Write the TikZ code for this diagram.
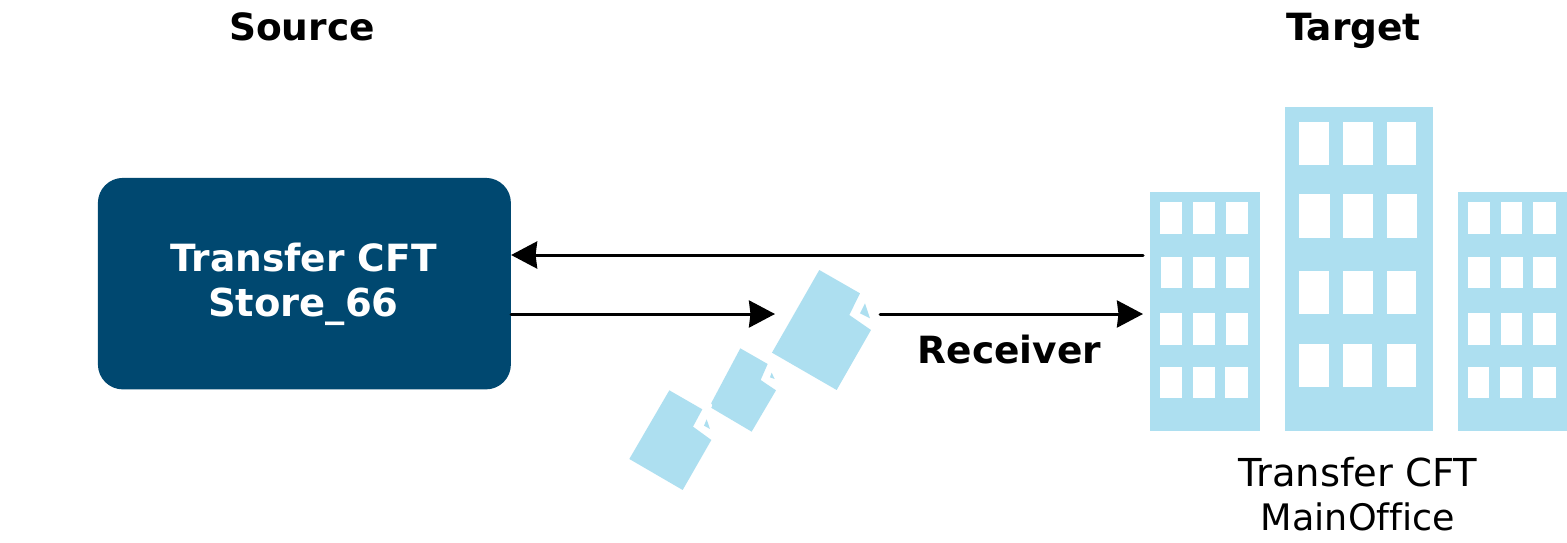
\documentclass[tikz,border=0pt]{standalone}
\usepackage{fontspec}
\setmainfont[Ligatures=NoCommon]{DejaVu Sans}
\usetikzlibrary{arrows.meta}
\definecolor{deepblue}{HTML}{004870}
\definecolor{paleblue}{HTML}{ADDFF0}
\tikzset{
  x=1pt,y=-1pt,
  flow/.style={line width=3pt,line cap=round,-{Stealth[length=26pt,width=27pt,inset=1.5pt]}},
  boxnode/.style={fill=deepblue,draw=none,rounded corners=25pt,inner sep=0pt,minimum width=413pt,minimum height=211.5pt},
  boldlabel/.style={font=\fontsize{37.5}{45}\selectfont\bfseries,align=center,inner sep=0pt},
  plainlabel/.style={font=\fontsize{38.5}{44}\selectfont,align=center,inner sep=0pt},
  tower/.style={fill=paleblue,draw=none,inner sep=0pt},
  zoomA/.style={shift={(610,250)},x=0.3333pt,y=-0.3333pt},
  zoomB/.style={shift={(1130,95)},x=0.3333pt,y=-0.3333pt},
  docshape/.style={fill=paleblue,draw=none},
  foldgap/.style={draw=white,line width=5pt,line cap=round},
}
\begin{document}
\begin{tikzpicture}
\useasboundingbox (0,0) rectangle (1567,542);
\fill[white] (0,0) rectangle (1567,542);

% source box
\node[boxnode,anchor=north west] (source) at (97.7,177.7) {};
\node[boldlabel,text=white,anchor=base] (sourcetext) at (303.5,316.7) {Transfer CFT\\{\fontsize{38.5}{45}\selectfont Store\_66}};

% headings
\node[boldlabel,anchor=base] (sourcehead) at (302,40) {Source};
\node[boldlabel,anchor=base] (targethead) at (1353.5,40) {Target};
\node[boldlabel,anchor=base] (receiver) at (1009.5,363) {Receiver};

% buildings
\node[tower,anchor=north west,minimum width=110pt,minimum height=239.4pt] (towerL) at (1149.3,191.7) {};
\node[tower,anchor=north west,minimum width=148.4pt,minimum height=324.4pt] (towerM) at (1284.3,106.7) {};
\node[tower,anchor=north west,minimum width=109.4pt,minimum height=239.4pt] (towerR) at (1457.3,191.7) {};
\begin{scope}[zoomB]
\foreach \xa/\xb/\ya/\yb in {
 91/157/322/418,190/256/322/418,289/353/322/418,
 94/157/485/580,190/256/485/580,289/356/485/580,
 91/157/653/751,190/256/653/751,289/353/653/751,
 91/157/815/910,190/256/815/910,286/353/815/910,
 508/596/80/211,640/730/80/211,772/859/80/211,
 508/599/298/430,640/730/298/430,772/862/298/430,
 508/596/527/658,640/730/527/658,772/859/527/658,
 508/596/746/877,640/727/746/877,772/859/746/877,
 1015/1081/322/418,1114/1177/322/418,1210/1277/322/418,
 1015/1081/485/580,1114/1180/485/580,1210/1277/485/580,
 1015/1081/653/751,1114/1177/653/751,1210/1277/653/751,
 1015/1078/815/910,1111/1177/815/910,1210/1277/815/910}
  {\fill[white] (\xa,\ya) rectangle (\xb,\yb);}
\end{scope}
\node[plainlabel,anchor=base] (targettext) at (1358,530) {Transfer CFT\\{\fontsize{36.5}{44}\selectfont MainOffice}};

% documents
\begin{scope}[zoomA]
\fill[docshape] (391,295) -- (473,342) -- (452,390) -- (498,421) -- (425,545) -- (298,470) -- cycle;
\fill[docshape] (485,368) -- (480,382) -- (494,387) -- cycle;
\draw[foldgap] (299,466) -- (285,490);
\fill[docshape] (178,421) -- (277,478) -- (249,530) -- (304,570) -- (218,720) -- (58,627) -- cycle;
\fill[docshape] (290,508) -- (282,527) -- (300,537) -- cycle;
\fill[docshape] (628,60) -- (750,130) -- (718,195) -- (783,240) -- (680,420) -- (486,308) -- cycle;
\fill[docshape] (765,160) -- (750,190) -- (780,205) -- cycle;
\end{scope}

% connectors
\coordinate (outgoing) at (880,314);
\coordinate (docleft) at (775,314);
\coordinate (towerin) at (1143,314);
\coordinate (towerout) at (1143,255);
\draw[flow] (towerout) -- (source.east |- towerout);
\draw[flow] (source.east |- docleft) -- (docleft);
\draw[flow] (outgoing) -- (towerin);
\end{tikzpicture}
\end{document}
